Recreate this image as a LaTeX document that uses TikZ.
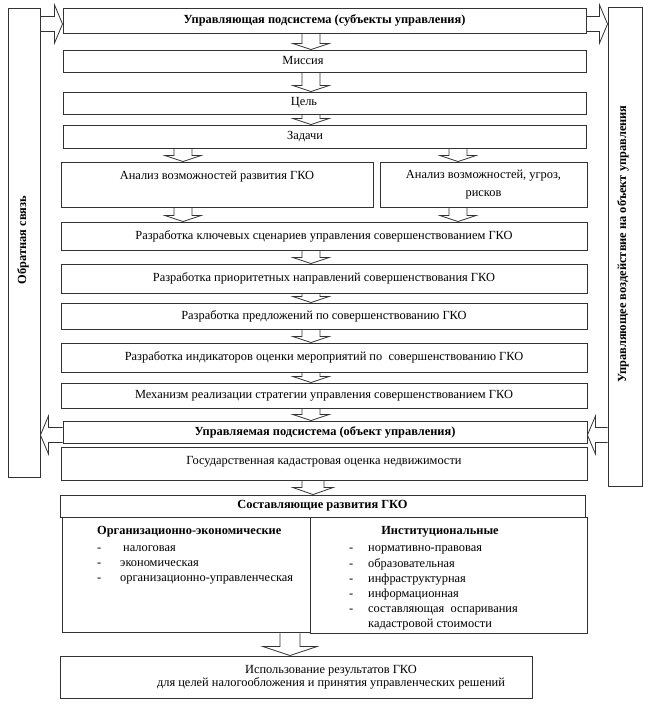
\documentclass[tikz,border=0pt]{standalone}
\usepackage{fontspec}
\setmainfont{Liberation Serif}
\usetikzlibrary{calc}
\newcommand\myfs{\fontsize{12.4}{14}\selectfont}
\def\sw{9pt}\def\hw{18pt}\def\hh{6pt}
\def\hsh{7.5pt}\def\hhw{19pt}\def\hl{8pt}
\newcommand\darr[3]{\draw[barrow] let \p1=(#1.south), \p2=(#2.north) in
  ({#3pt-\sw},\y1) -- ({#3pt-\sw},{\y2+\hh}) -- ({#3pt-\hw},{\y2+\hh}) -- ({#3pt},\y2) -- ({#3pt+\hw},{\y2+\hh}) -- ({#3pt+\sw},{\y2+\hh}) -- ({#3pt+\sw},\y1);}
\newcommand\rarr[3]{\draw[barrow] let \p1=(#1.east), \p2=(#2.west) in
  (\x1,{-#3pt+\hsh}) -- ({\x2-\hl},{-#3pt+\hsh}) -- ({\x2-\hl},{-#3pt+\hhw}) -- (\x2,{-#3pt}) -- ({\x2-\hl},{-#3pt-\hhw}) -- ({\x2-\hl},{-#3pt-\hsh}) -- (\x1,{-#3pt-\hsh});}
\newcommand\larr[3]{\draw[barrow] let \p1=(#1.west), \p2=(#2.east) in
  (\x1,{-#3pt+\hsh}) -- ({\x2+\hl},{-#3pt+\hsh}) -- ({\x2+\hl},{-#3pt+\hhw}) -- (\x2,{-#3pt}) -- ({\x2+\hl},{-#3pt-\hhw}) -- ({\x2+\hl},{-#3pt-\hsh}) -- (\x1,{-#3pt-\hsh});}
\begin{document}
\begin{tikzpicture}[x=1pt,y=-1pt,
  box/.style={draw=black!80, line width=0.9pt, inner sep=0pt, font=\myfs},
  wbox/.style={box, minimum width=526pt},
  barrow/.style={draw=black!80, line width=0.8pt, line join=miter},
  txt/.style={inner sep=0pt, font=\myfs},
  list/.style={inner sep=0pt, align=left, font=\fontsize{12.4}{15.2}\selectfont}]
\useasboundingbox[fill=white] (0,0) rectangle (650,709);
% side boxes
\node[box, minimum width=32pt, minimum height=469pt] (fb) at (24,242.5) {};
\node[txt, rotate=90, font=\myfs\bfseries] (fbT) at (23,240) {Обратная связь};
\node[box, minimum width=34pt, minimum height=479pt] (ctrl) at (625,246.5) {};
\node[txt, rotate=90, font=\myfs\bfseries] (ctrlT) at (623,244) {Управляющее воздействие на объект управления};
% main chain
\node[box, minimum width=523pt, minimum height=25pt, font=\myfs\bfseries] (top) at (324.5,20.5) {Управляющая подсистема (субъекты управления)};
\node[box, minimum width=523pt, minimum height=22pt] (mis) at (324.5,61) {Миссия\hspace*{43pt}};
\node[box, minimum width=523pt, minimum height=22pt] (goal) at (324.5,103) {Цель\hspace*{41pt}};
\node[box, minimum width=523pt, minimum height=23pt] (task) at (324.5,136.5) {Задачи\hspace*{39pt}};
\node[box, minimum width=312pt, minimum height=45pt, align=center, font=\fontsize{12.4}{18}\selectfont] (anl) at (217,184.5) {Анализ возможностей развития ГКО\\\mbox{}};
\node[box, minimum width=207pt, minimum height=45pt, align=center, font=\fontsize{12.4}{18}\selectfont] (anr) at (483.5,184.5) {Анализ возможностей, угроз,\\рисков};
\node[wbox, minimum height=28pt] (scen) at (324,236) {Разработка ключевых сценариев управления совершенствованием ГКО};
\node[wbox, minimum height=29pt] (prio) at (324,278.5) {Разработка приоритетных направлений совершенствования ГКО};
\node[wbox, minimum height=26pt] (prop) at (324,316) {Разработка предложений по совершенствованию ГКО};
\node[wbox, minimum height=29pt] (ind) at (324,357.5) {Разработка индикаторов оценки мероприятий по\ \ совершенствованию ГКО};
\node[wbox, minimum height=25pt] (mech) at (324,395.5) {Механизм реализации стратегии управления совершенствованием ГКО};
\node[box, minimum width=524pt, minimum height=22pt, font=\myfs\bfseries] (obj) at (325,432) {Управляемая подсистема (объект управления)};
\node[wbox, minimum height=33pt] (gko) at (324,463.5) {Государственная кадастровая оценка недвижимости\raisebox{0pt}[0pt][6pt]{}};
% components
\node[box, minimum width=525pt, minimum height=22pt, font=\myfs\bfseries] (comp) at (322.5,506) {Составляющие развития ГКО};
\node[box, minimum width=248pt, minimum height=115pt] (org) at (186,574.5) {};
\node[box, minimum width=277pt, minimum height=116pt] (inst) at (448.5,575) {};
\node[txt, anchor=west, font=\myfs\bfseries] (orgH) at (97,532) {Организационно-экономические};
\node[list, anchor=north west] (orgL) at (97,540.5) {\strut\makebox[26pt][l]{-}налоговая\\\makebox[23pt][l]{-}экономическая\\\makebox[23pt][l]{-}организационно-управленческая};
\node[txt, font=\myfs\bfseries] (instH) at (440,532) {Институциональные};
\node[list, anchor=north west] (instL) at (349,541) {\strut\makebox[19pt][l]{-}нормативно-правовая\\\makebox[19pt][l]{-}образовательная\\\makebox[19pt][l]{-}инфраструктурная\\\makebox[19pt][l]{-}информационная\\\makebox[19pt][l]{-}составляющая\ \ оспаривания\\\makebox[19pt][l]{}кадастровой стоимости};
\node[box, minimum width=472pt, minimum height=42pt, align=center, font=\fontsize{12.4}{11.5}\selectfont] (use) at (296,677) {\hspace*{70pt}Использование результатов ГКО\\\hspace*{70pt}для целей налогообложения и принятия управленческих решений};
% arrows
\rarr{fb}{top}{24}
\rarr{top}{ctrl}{24}
\larr{obj}{fb}{435}
\larr{ctrl}{obj}{435}
\darr{top}{mis}{311}
\darr{mis}{goal}{311}
\darr{goal}{task}{311}
\darr{task}{anl}{183}
\darr{task}{anr}{458}
\darr{anl}{scen}{183}
\darr{anr}{scen}{458}
\darr{scen}{prio}{311}
\darr{prio}{prop}{311}
\darr{prop}{ind}{311}
\darr{ind}{mech}{311}
\darr{mech}{obj}{311}
\def\sw{11pt}\def\hw{20pt}\def\hh{7pt}
\darr{gko}{comp}{313}
\def\sw{10pt}\def\hw{27pt}\def\hh{9pt}
\darr{inst}{use}{290}
\end{tikzpicture}
\end{document}
